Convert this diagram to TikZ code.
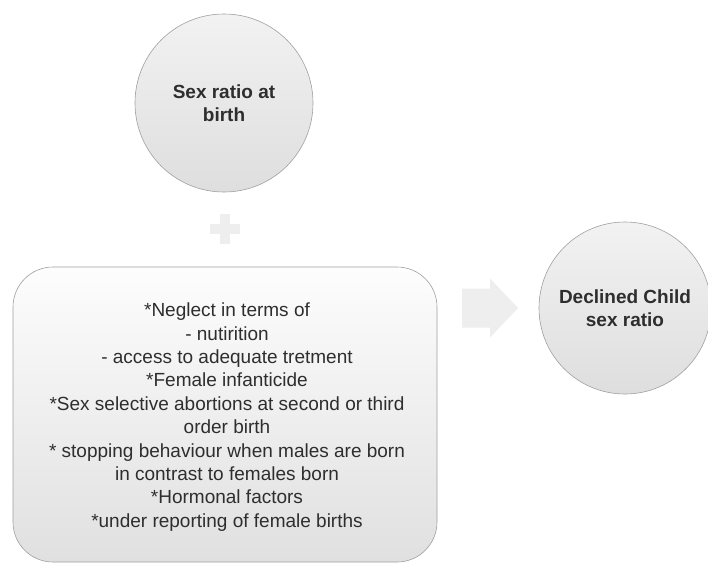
\documentclass[tikz,border=0pt]{standalone}
\usepackage{fontspec}
\setmainfont{Liberation Sans}
\definecolor{txt}{HTML}{2E2E2E}
\definecolor{edge}{HTML}{A0A0A0}
\definecolor{ctop}{HTML}{F2F2F2}
\definecolor{cbot}{HTML}{DEDEDE}
\definecolor{btop}{HTML}{FDFDFD}
\definecolor{bbot}{HTML}{E0E0E0}
\definecolor{faint}{HTML}{EEEEEE}
\tikzset{
  circ/.style={circle, draw=edge, line width=0.6pt, top color=ctop, bottom color=cbot,
    text=txt, font=\fontsize{19}{23}\selectfont\bfseries, align=center, inner sep=0pt},
  infobox/.style={draw=edge, line width=0.6pt, rounded corners=40pt, top color=btop, bottom color=bbot},
  infotext/.style={text=txt, font=\fontsize{19}{23.4}\selectfont, align=center, inner sep=0pt},
  faintshape/.style={fill=faint, draw=none}
}
\begin{document}
\begin{tikzpicture}[x=1pt,y=1pt]
\useasboundingbox (0,0) rectangle (708,-563);
\fill[white] (0,0) rectangle (708,-563);
% top circle
\node[circ, minimum size=178pt] (sr) at (224,-103) {Sex ratio at\\birth};
% plus sign
\coordinate (plus) at (225,-229);
\fill[faintshape] ([shift={(-5,15)}]plus) rectangle ([shift={(5,-15)}]plus);
\fill[faintshape] ([shift={(-15,5)}]plus) rectangle ([shift={(15,-5)}]plus);
% box
\draw[infobox] (13,-267) rectangle (437,-562);
\node[infotext] (causes) at (227,-417) {*Neglect in terms of\\
- nutirition\\
- access to adequate tretment\\
*Female infanticide\\
*Sex selective abortions at second or third\\
order birth\\
* stopping behaviour when males are born\\
in contrast to females born\\
*Hormonal factors\\
*under reporting of female births};
% block arrow
\coordinate (arr) at (462,-308);
\fill[faintshape] (arr) ++(0,19.5) -- ++(28,0) -- ++(0,10) -- ++(28,-29.5)
  -- ++(-28,-29.5) -- ++(0,10) -- ++(-28,0) -- cycle;
% right circle
\node[circ, minimum size=172pt] (csr) at (625,-308) {Declined Child\\sex ratio};
\end{tikzpicture}
\end{document}
